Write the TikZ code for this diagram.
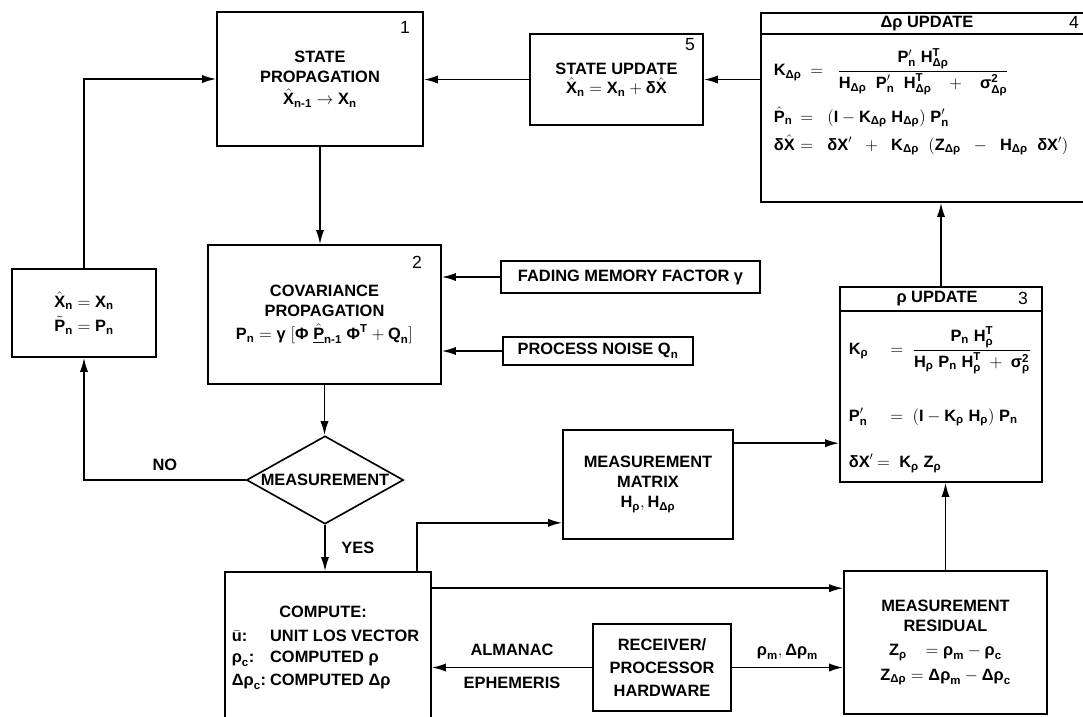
\documentclass[tikz,border=0pt]{standalone}
\usepackage{amsmath}
\usepackage{fontspec}
\setmainfont{Liberation Sans}
\usetikzlibrary{positioning,arrows.meta,shapes.geometric,calc}
\def\pxu{0.03}
\newcommand{\fx}[1]{\text{#1}}
% box from its corners: name x1 y1 x2 y2 text
\newcommand{\flowbox}[6]{%
  \node[blk, minimum width={(#4-#2)*\pxu cm}, minimum height={(#5-#3)*\pxu cm}]
    (#1) at ({(#2+#4)/2},{(#3+#5)/2}) {#6};}

\begin{document}
\begin{tikzpicture}[
  x=\pxu cm, y=-\pxu cm,
  font=\bfseries\fontsize{14}{17}\selectfont,
  >={Latex[length=12pt,width=7pt]},
  line width=1.4pt,
  blk/.style={draw, line width=1.4pt, align=center, inner sep=0pt},
  tag/.style={font=\mdseries\fontsize{15}{17}\selectfont},
  eqrow/.style={anchor=west, inner sep=0pt},
]
\useasboundingbox (0,0) rectangle (1083,716);
\clip (0,0) rectangle (1083,716);

% ---------- main loop ----------
\flowbox{stateprop}{217}{12}{423}{146}{STATE\\PROPAGATION\\[2pt]$\hat{\fx{X}}_{\fx{n-1}} \rightarrow \fx{X}_{\fx{n}}$}
\node[tag] (n1) at (405,27) {1};

\flowbox{covprop}{208}{245}{441}{384}{COVARIANCE\\PROPAGATION\\[3pt]$\fx{P}_{\fx{n}} = \fx{γ}\;[\fx{Φ}\;\underline{\hat{\fx{P}}}_{\fx{n-1}}\;\fx{Φ}^{\fx{T}} + \fx{Q}_{\fx{n}}]$}
\node[tag] (n2) at (417,262) {2};

\flowbox{reset}{12}{269}{156}{357}{$\hat{\fx{X}}_{\fx{n}} = \fx{X}_{\fx{n}}$\\[4pt]$\tilde{\fx{P}}_{\fx{n}} = \fx{P}_{\fx{n}}$}

\flowbox{fmf}{501}{261}{760}{293}{FADING MEMORY FACTOR $\fx{γ}$}
\flowbox{pnq}{503}{337}{693}{365}{PROCESS NOISE $\fx{Q}_{\fx{n}}$}

\node[draw, diamond, minimum width={157*\pxu cm}, minimum height={88*\pxu cm}, inner sep=0pt] (meas) at (325,480) {};
\node (measlbl) at (meas.center) {MEASUREMENT};

% ---------- state update ----------
\flowbox{stateupd}{530}{34}{703}{125}{STATE UPDATE\\$\hat{\fx{X}}_{\fx{n}} = \fx{X}_{\fx{n}} + \fx{δ}\hat{\fx{X}}$}
\node[tag] (n5) at (690,45) {5};

% ---------- delta-rho update ----------
\flowbox{dpupd}{761}{13}{1092}{202}{}
\draw ($(dpupd.north west)+(0,22)$) -- ($(dpupd.north east)+(0,22)$);
\node (dptitle) at (927,24) {$\fx{Δρ}$ UPDATE};
\node[tag] (n4) at (1074,22) {4};
\node[eqrow] (kdp) at (773,72) {\makebox[1.1cm][l]{$\fx{K}_{\fx{Δρ}}$}$=\;\;\dfrac{\fx{P}'_{\fx{n}}\;\fx{H}^{\fx{T}}_{\fx{Δρ}}}{\fx{H}_{\fx{Δρ}}\;\;\fx{P}'_{\fx{n}}\;\;\fx{H}^{\fx{T}}_{\fx{Δρ}} \;\;\;+\;\;\; \fx{σ}^{\fx{2}}_{\fx{Δρ}}}$};
\node[eqrow] (phat) at (773,117) {\makebox[0.8cm][l]{$\hat{\fx{P}}_{\fx{n}}$}$=\;\;(\fx{I} - \fx{K}_{\fx{Δρ}}\;\fx{H}_{\fx{Δρ}})\;\fx{P}'_{\fx{n}}$};
\node[eqrow] (dxhat) at (773,145) {\makebox[0.8cm][l]{$\fx{δ}\hat{\fx{X}}$}$=\;\;\fx{δX}' \;\;+\;\; \fx{K}_{\fx{Δρ}}\;\;(\fx{Z}_{\fx{Δρ}} \;\;-\;\; \fx{H}_{\fx{Δρ}}\;\;\fx{δX}')$};

% ---------- rho update ----------
\flowbox{pupd}{840}{287}{1042}{482}{}
\draw ($(pupd.north west)+(0,25)$) -- ($(pupd.north east)+(0,25)$);
\node (ptitle) at (937,299) {$\fx{ρ}$ UPDATE};
\node[tag] (n3) at (1023,298) {3};
\node[eqrow] (kp) at (848,350) {\makebox[1.25cm][l]{$\fx{K}_{\fx{ρ}}$}$=\;\dfrac{\fx{P}_{\fx{n}}\;\fx{H}^{\fx{T}}_{\fx{ρ}}}{\fx{H}_{\fx{ρ}}\;\fx{P}_{\fx{n}}\;\fx{H}^{\fx{T}}_{\fx{ρ}} \;+\; \fx{σ}^{\fx{2}}_{\fx{ρ}}}$};
\node[eqrow] (pprime) at (848,417) {\makebox[1.25cm][l]{$\fx{P}'_{\fx{n}}$}$=\;(\fx{I} - \fx{K}_{\fx{ρ}}\;\fx{H}_{\fx{ρ}})\;\fx{P}_{\fx{n}}$};
\node[eqrow] (dxp) at (848,463) {\makebox[0.85cm][l]{$\fx{δX}'$}$=\;\fx{K}_{\fx{ρ}}\;\fx{Z}_{\fx{ρ}}$};

% ---------- measurement side ----------
\flowbox{mmat}{563}{430}{733}{539}{MEASUREMENT\\MATRIX\\$\fx{H}_{\fx{ρ}},\fx{H}_{\fx{Δρ}}$}
\flowbox{mres}{844}{571}{1047}{714}{MEASUREMENT\\RESIDUAL\\[4pt]$\fx{Z}_{\fx{ρ}}\;\;\;= \fx{ρ}_{\fx{m}} - \fx{ρ}_{\fx{c}}$\\[4pt]$\fx{Z}_{\fx{Δρ}} = \fx{Δρ}_{\fx{m}} - \fx{Δρ}_{\fx{c}}$}
\flowbox{rcv}{593}{624}{731}{711}{RECEIVER/\\[3pt]PROCESSOR\\[3pt]HARDWARE}

% compute box runs off the bottom edge
\flowbox{comp}{225}{572}{431}{750}{}
\node[inner sep=0pt] (comptitle) at (323,612) {COMPUTE:};
\node[eqrow] (urow) at (231,636) {\makebox[1.15cm][l]{$\bar{\fx{u}}$:}UNIT LOS VECTOR};
\node[eqrow] (rcrow) at (231,659) {\makebox[1.15cm][l]{$\fx{ρ}_{\fx{c}}$:}COMPUTED $\fx{ρ}$};
\node[eqrow] (drcrow) at (231,682) {\makebox[1.15cm][l]{$\fx{Δρ}_{\fx{c}}$:}COMPUTED $\fx{Δρ}$};

% ---------- connectors ----------
\draw[->] (stateupd.west) -- (stateupd.west -| stateprop.east);
\draw[->] (dpupd.west |- stateupd.east) -- (stateupd.east);
\draw[->] (pupd.north) -- (pupd.north |- dpupd.south);
\draw[->] (mres.north) -- (mres.north |- pupd.south);
\coordinate (mmatout) at ($(mmat.north east)+(0,14)$);
\draw[->] (mmatout) -- (mmatout -| pupd.west);
\coordinate (compup) at ($(comp.north east)+(-15,0)$);
\draw[->] (compup) |- ($(mmat.south west)+(0,-17)$);
\coordinate (compout) at ($(comp.north east)+(0,17)$);
\draw[->] (compout) -- (compout -| mres.west);
\draw[->] (rcv.east) -- node[above=3pt] (rholbl) {$\fx{ρ}_{\fx{m}},\fx{Δρ}_{\fx{m}}$} (rcv.east -| mres.west);
\draw[->] (rcv.west) -- node[above=6pt] (alm) {ALMANAC} node[below=4pt] (eph) {EPHEMERIS} (rcv.west -| comp.east);
\draw[->] (fmf.west) -- (fmf.west -| covprop.east);
\draw[->] (pnq.west) -- (pnq.west -| covprop.east);
\draw[->] (stateprop.south) -- (stateprop.south |- covprop.north);
\draw[->] (covprop.south) -- (covprop.south |- meas.north);
\draw[->] (meas.south) -- node[right=10pt] (yes) {YES} (meas.south |- comp.north);
\draw[->] (meas.west) -| node[pos=0.25, above=4pt] (no) {NO} (reset.south);
\draw[->] (reset.north) |- (stateprop.west);

\end{tikzpicture}
\end{document}
